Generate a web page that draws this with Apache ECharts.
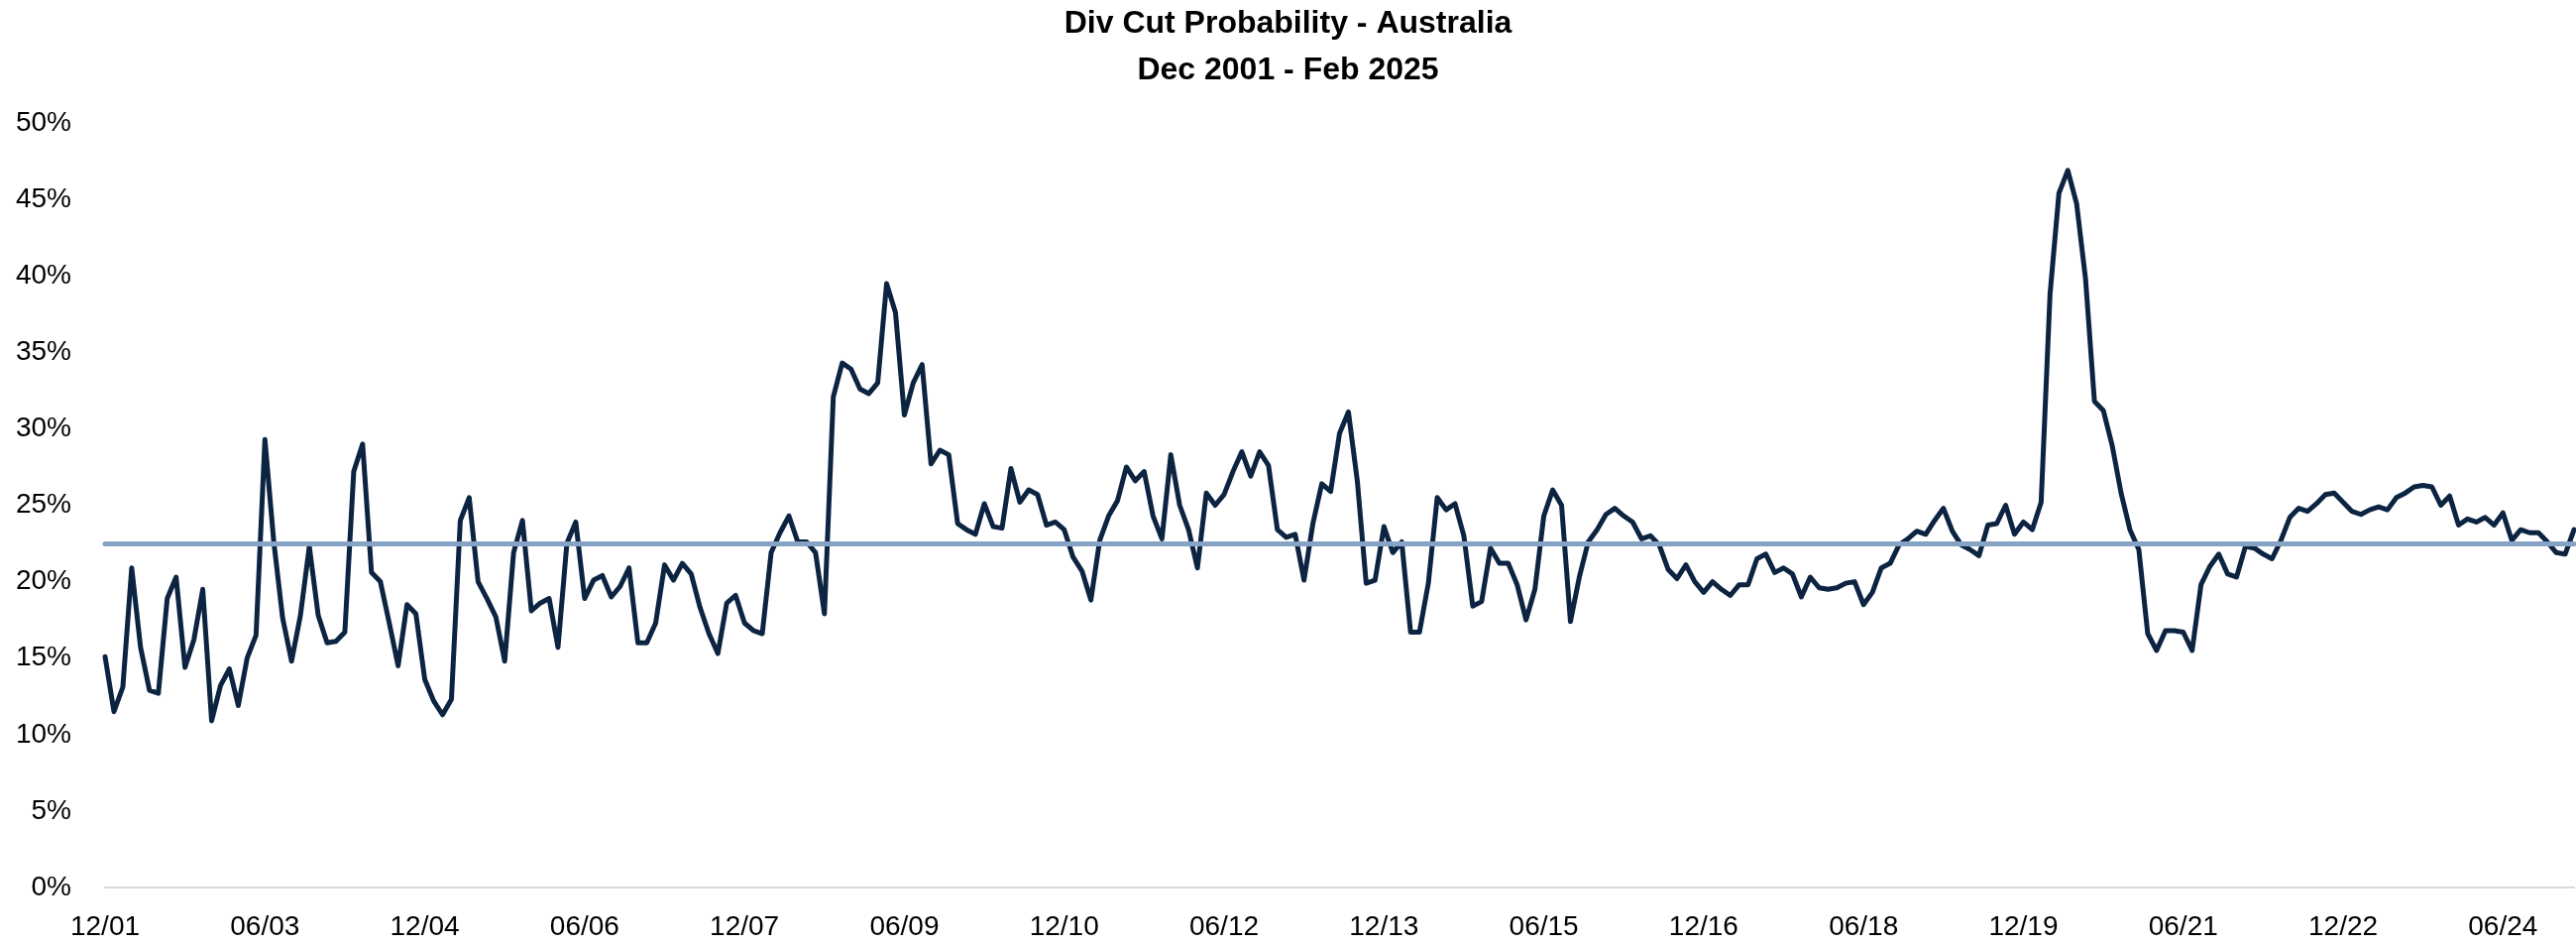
<!DOCTYPE html>
<html>
<head>
<meta charset="utf-8">
<title>Div Cut Probability - Australia</title>
<script src="https://cdn.jsdelivr.net/npm/echarts@6/dist/echarts.min.js"></script>
<style>
  html, body { margin: 0; padding: 0; background: #fff; }
  #chart { width: 2599px; height: 954px; }
</style>
</head>
<body>
<div id="chart"></div>
<script>
  // monthly values (%), Dec 2001 - Feb 2025
  var vals2001to2005 = [
    15.1, 11.5, 13.1, 20.9, 15.7, 12.9, 12.7, 18.9, 20.3, 14.4, 16.2, 19.5, 10.9,
    13.2, 14.3, 11.9, 15.0, 16.5, 29.3, 22.6, 17.6, 14.8, 17.8, 22.3, 17.8,
    16.0, 16.1, 16.7, 27.2, 29.0, 20.6, 20.0, 17.3, 14.5, 18.5, 17.9, 13.6,
    12.2, 11.3, 12.3, 24.0, 25.5, 20.0, 18.9, 17.7, 14.8, 21.9, 24.0, 18.1
  ];
  var vals2006to2010 = [
    18.6, 18.9, 15.7, 22.5, 23.9, 18.9, 20.1, 20.4, 19.0, 19.7, 20.9, 16.0,
    16.0, 17.3, 21.1, 20.1, 21.2, 20.5, 18.3, 16.6, 15.3, 18.6, 19.1, 17.3,
    16.8, 16.6, 21.9, 23.2, 24.3, 22.6, 22.6, 21.9, 17.9, 32.1, 34.3, 33.9,
    32.6, 32.3, 33.0, 39.5, 37.6, 30.9, 33.0, 34.2, 27.7, 28.6, 28.3, 23.8,
    23.4, 23.1, 25.1, 23.6, 23.5, 27.4, 25.2, 26.0, 25.7, 23.7, 23.9, 23.4
  ];
  var vals2011to2015 = [
    21.6, 20.7, 18.8, 22.7, 24.3, 25.3, 27.5, 26.6, 27.2, 24.3, 22.8, 28.3,
    25.0, 23.4, 20.9, 25.8, 25.0, 25.7, 27.2, 28.5, 26.9, 28.5, 27.6, 23.4,
    22.9, 23.1, 20.1, 23.8, 26.4, 25.9, 29.7, 31.1, 26.6, 19.9, 20.1, 23.6,
    21.9, 22.6, 16.7, 16.7, 19.9, 25.5, 24.7, 25.1, 23.0, 18.4, 18.7, 22.2,
    21.2, 21.2, 19.8, 17.5, 19.5, 24.3, 26.0, 25.0, 17.4, 20.3, 22.6, 23.4
  ];
  var vals2016to2020 = [
    24.4, 24.8, 24.3, 23.9, 22.8, 23.0, 22.4, 20.8, 20.2, 21.1, 20.0, 19.3,
    20.0, 19.5, 19.1, 19.8, 19.8, 21.5, 21.8, 20.6, 20.9, 20.5, 19.0, 20.3,
    19.6, 19.5, 19.6, 19.9, 20.0, 18.5, 19.3, 20.9, 21.2, 22.4, 22.8, 23.3,
    23.1, 24.0, 24.8, 23.3, 22.4, 22.1, 21.7, 23.7, 23.8, 25.0, 23.1, 23.9,
    23.4, 25.2, 38.8, 45.4, 46.9, 44.7, 39.8, 31.8, 31.2, 28.9, 25.8, 23.4
  ];
  var vals2021to2025 = [
    22.1, 16.6, 15.5, 16.8, 16.8, 16.7, 15.5, 19.8, 21.0, 21.8, 20.5, 20.3,
    22.3, 22.2, 21.8, 21.5, 22.7, 24.2, 24.8, 24.6, 25.1, 25.7, 25.8, 25.2,
    24.6, 24.4, 24.7, 24.9, 24.7, 25.5, 25.8, 26.2, 26.3, 26.2, 25.0, 25.6,
    23.7, 24.1, 23.9, 24.2, 23.7, 24.5, 22.7, 23.4, 23.2, 23.2, 22.6, 21.9,
    21.8, 23.4
  ];
  var avgValue = 22.46; // long run average line

  var values = [].concat(vals2001to2005, vals2006to2010, vals2011to2015, vals2016to2020, vals2021to2025);

  // month labels MM/YY starting Dec 2001
  var startYear = 2001, startMonth = 12;
  var months = [];
  for (var i = 0; i < values.length; i++) {
    var m = (startMonth - 1 + i) % 12 + 1;
    var y = startYear + Math.floor((startMonth - 1 + i) / 12);
    months.push((m < 10 ? '0' + m : '' + m) + '/' + String(y).slice(2));
  }

  var chart = echarts.init(document.getElementById('chart'));
  chart.setOption({
    animation: false,
    title: {
      text: 'Div Cut Probability - Australia\nDec 2001 - Feb 2025',
      left: 'center',
      top: -4,
      textStyle: {
        fontFamily: 'Liberation Sans',
        fontSize: 32,
        fontWeight: 'bold',
        color: '#000',
        lineHeight: 47
      }
    },
    grid: {
      left: 106,
      right: 2,
      top: 124,
      bottom: 59,
      containLabel: false
    },
    xAxis: {
      type: 'category',
      data: months,
      boundaryGap: false,
      axisLine: { lineStyle: { color: '#d9d9d9', width: 2 } },
      axisTick: { show: false },
      axisLabel: {
        interval: 17,
        margin: 26,
        fontFamily: 'Liberation Sans',
        fontSize: 28,
        color: '#000'
      }
    },
    yAxis: {
      type: 'value',
      min: 0,
      max: 50,
      interval: 5,
      axisLine: { show: false },
      axisTick: { show: false },
      splitLine: { show: false },
      axisLabel: {
        formatter: '{value}%',
        margin: 34,
        fontFamily: 'Liberation Sans',
        fontSize: 28,
        color: '#000'
      }
    },
    series: [
      {
        name: 'Div Cut Probability',
        type: 'line',
        data: values,
        symbol: 'none',
        lineStyle: { color: '#0c2441', width: 5, join: 'round', cap: 'round' },
        markLine: {
          silent: true,
          symbol: 'none',
          z: 10,
          label: { show: false },
          lineStyle: { color: '#86a3c5', width: 5, type: 'solid', cap: 'round' },
          data: [{ yAxis: avgValue }]
        }
      }
    ]
  });
</script>
</body>
</html>
